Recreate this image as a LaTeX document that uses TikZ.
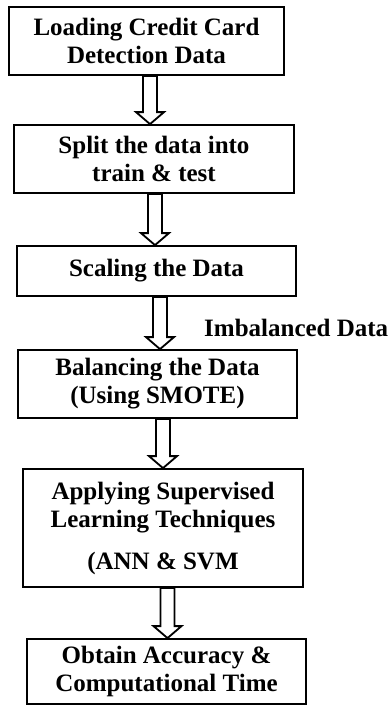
\documentclass[tikz,border=0pt]{standalone}
\usepackage{fontspec}
\setmainfont{Liberation Serif}
\begin{document}
\begin{tikzpicture}[x=1pt,y=-1pt,
  box/.style={draw, line width=1.8pt, inner sep=0pt, align=center,
    font=\bfseries\fontsize{25}{28}\selectfont},
  hollow/.style={draw, line width=1.8pt, fill=white, line join=miter},
  lbl/.style={font=\bfseries\fontsize{25}{28}\selectfont, inner sep=0pt}]
\useasboundingbox (0,0) rectangle (391,705);
\node[box, minimum width=275pt, minimum height=68pt] (b1) at (146.5,41) {Loading Credit Card\\Detection Data};
\node[box, minimum width=280pt, minimum height=68pt] (b2) at (154,159) {Split the data into\\train \& test};
\node[box, minimum width=279pt, minimum height=50pt] (b3) at (156.5,271) {Scaling the Data};
\node[box, minimum width=279pt, minimum height=68pt] (b4) at (157.5,384) {Balancing the Data\\(Using SMOTE)};
\node[box, minimum width=280pt, minimum height=118pt] (b5) at (163,528) {Applying Supervised\\Learning Techniques\\[14pt](ANN \& SVM};
\node[box, minimum width=279pt, minimum height=65pt] (b6) at (166.5,671.5) {Obtain Accuracy \&\\Computational Time};
\node[lbl, anchor=base west] (imb) at (204,336.5) {Imbalanced Data};
\newcommand\harrow[3]{%
  \draw[hollow] (#3-7,0 |- #1.south) -- (#3+7,0 |- #1.south)
    -- ([xshift=7pt,yshift=12pt]#3,0 |- #2.north) -- ([xshift=14pt,yshift=12pt]#3,0 |- #2.north)
    -- (#3,0 |- #2.north) -- ([xshift=-14pt,yshift=12pt]#3,0 |- #2.north)
    -- ([xshift=-7pt,yshift=12pt]#3,0 |- #2.north) -- cycle;}
\harrow{b1}{b2}{150}
\harrow{b2}{b3}{155}
\harrow{b3}{b4}{160}
\harrow{b4}{b5}{163}
\harrow{b5}{b6}{167.5}
\end{tikzpicture}
\end{document}
